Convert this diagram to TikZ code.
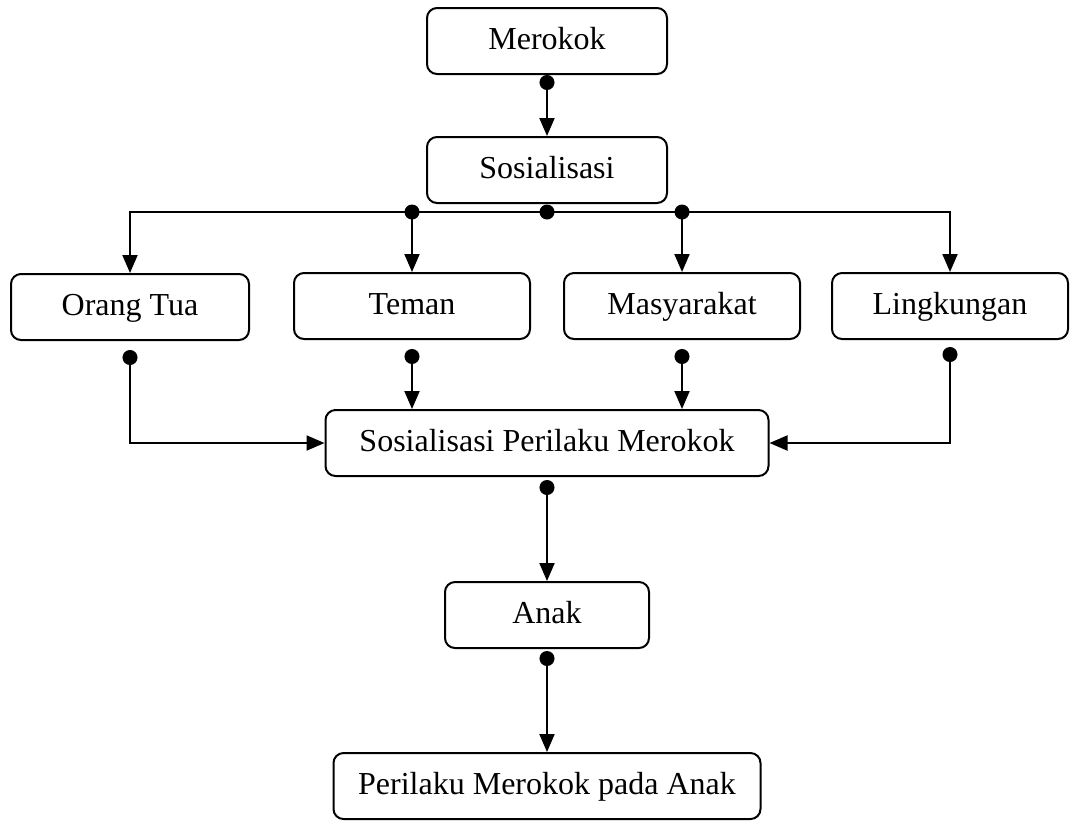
\documentclass[tikz,border=0pt]{standalone}
\usepackage{fontspec}
\setmainfont{Liberation Serif}
\usetikzlibrary{arrows.meta}

\begin{document}
\begin{tikzpicture}[x=0.5pt,y=-0.5pt,
  box/.style={draw, line width=1pt, rounded corners=5pt, minimum height=33pt,
    inner sep=0pt, text height=11.5pt, text depth=3.5pt,
    font=\fontsize{16}{19}\selectfont},
  flow/.style={line width=1pt, {Circle[length=7.5pt]}-{Triangle[length=9pt,width=7.5pt]}},
  feed/.style={line width=1pt, -{Triangle[length=9pt,width=7.5pt]}}]

\useasboundingbox (0,0) rectangle (1074,821);

\coordinate (A) at (547,41);
\coordinate (B) at (547,170);
\coordinate (C) at (130,307);
\coordinate (D) at (412,306);
\coordinate (E) at (682,306);
\coordinate (F) at (950,306);
\coordinate (G) at (547,443);
\coordinate (H) at (547,615);
\coordinate (I) at (547,786);
\coordinate (bus) at (547,212);

\node [box, minimum width=120pt] (merokok) at (A) {Merokok};
\node [box, minimum width=120pt] (sos) at (B) {Sosialisasi};
\node [box, minimum width=119pt] (ortu) at (C) {Orang Tua};
\node [box, minimum width=118pt] (teman) at (D) {Teman};
\node [box, minimum width=118pt] (masy) at (E) {Masyarakat};
\node [box, minimum width=118pt] (ling) at (F) {Lingkungan};
\node [box, minimum width=221.5pt] (spm) at (G) {Sosialisasi Perilaku Merokok};
\node [box, minimum width=102pt] (anak) at (H) {Anak};
\node [box, minimum width=213.5pt] (pma) at (I) {Perilaku Merokok pada Anak};

\draw [flow] (merokok.south) -- (sos.north);

\draw [feed] (bus) -| (ortu.north);
\draw [feed] (bus) -| (ling.north);
\draw [feed] (teman.north |- bus) -- (teman.north);
\draw [feed] (masy.north |- bus) -- (masy.north);
\fill (bus) circle (3.75pt);
\fill (teman.north |- bus) circle (3.75pt);
\fill (masy.north |- bus) circle (3.75pt);

\draw [flow] ([yshift=-4.5pt]ortu.south) |- (spm.west);
\draw [flow] ([yshift=-4.5pt]teman.south) -- (teman.south |- spm.north);
\draw [flow] ([yshift=-4.5pt]masy.south) -- (masy.south |- spm.north);
\draw [flow] ([yshift=-3.5pt]ling.south) |- (spm.east);

\draw [flow] ([yshift=-1.5pt]spm.south) -- (anak.north);
\draw [flow] ([yshift=-1pt]anak.south) -- (pma.north);
\end{tikzpicture}
\end{document}
